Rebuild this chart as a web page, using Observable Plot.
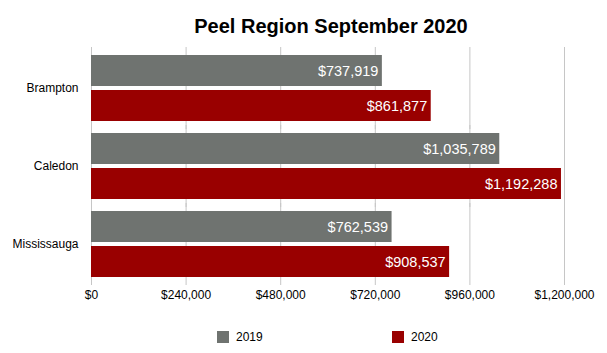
<!DOCTYPE html>
<html>
<head>
<meta charset="utf-8">
<script src="https://cdn.jsdelivr.net/npm/d3@7"></script>
<script src="https://cdn.jsdelivr.net/npm/@observablehq/plot@0.6"></script>
<style>
  html, body { margin: 0; padding: 0; background: #fff; }
  #wrap { position: relative; width: 607px; height: 353px; font-family: "Liberation Sans", Arial, sans-serif; color: #000; }
  #title { position: absolute; top: 15px; left: 0; width: 662px; text-align: center; font-size: 20px; font-weight: bold; line-height: 22px; }
  #chart { position: absolute; top: 40px; left: 0; }
  .leg { position: absolute; top: 330px; font-size: 12px; line-height: 14px; display: flex; align-items: center; }
  .sw { width: 12px; height: 12px; margin-right: 7px; }
</style>
</head>
<body>
<div id="wrap">
  <div id="title">Peel Region September 2020</div>
  <div id="chart"></div>
  <div id="legend"></div>
</div>
<script>
const cities = ["Brampton", "Caledon", "Mississauga"];
const years = ["2019", "2020"];
const values2019 = [737919, 1035789, 762539];
const values2020 = [861877, 1192288, 908537];
const xTicks = [0, 240000, 480000, 720000, 960000, 1200000];
const colors = ["#6f7370", "#990000"];

const series = {"2019": values2019, "2020": values2020};
const data = [];
cities.forEach((c, i) => years.forEach(y => data.push({city: c, year: y, value: series[y][i]})));

const fmt = d => "$" + d3.format(",")(d);

const chart = Plot.plot({
  width: 607,
  height: 280,
  marginTop: 6,
  marginBottom: 35,
  marginLeft: 91,
  marginRight: 43,
  style: {fontFamily: "'Liberation Sans', Arial, sans-serif", fontSize: "12px", color: "#000", background: "transparent"},
  x: {domain: [0, 1200000], ticks: xTicks, tickFormat: fmt, label: null, tickSize: 0, tickPadding: 13},
  y: {domain: years, axis: null, paddingInner: 0.12, paddingOuter: 0},
  fy: {domain: cities, label: null, axis: "left", tickSize: 0, tickPadding: 13, paddingInner: 0.16, paddingOuter: 0.1},
  color: {domain: years, range: colors},
  marks: [
    Plot.ruleX(xTicks, {x: d => d, stroke: "#c6c6c6", strokeWidth: 1, insetTop: -8, insetBottom: -8}),
    Plot.barX(data, {x: "value", y: "year", fy: "city", fill: "year"}),
    Plot.text(data, {x: "value", y: "year", fy: "city", text: d => fmt(d.value), textAnchor: "end", dx: -4, fill: "white", fontSize: 14.5})
  ]
});
document.getElementById("chart").appendChild(chart);

const legPos = [217, 392];
const legend = document.getElementById("legend");
years.forEach((y, i) => {
  const item = document.createElement("div");
  item.className = "leg";
  item.style.left = legPos[i] + "px";
  item.innerHTML = `<div class="sw" style="background:${colors[i]}"></div><span>${y}</span>`;
  legend.appendChild(item);
});
</script>
</body>
</html>
